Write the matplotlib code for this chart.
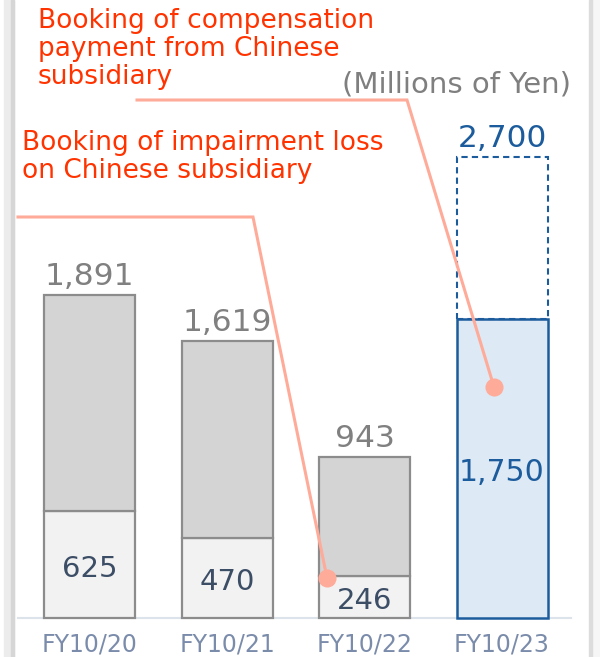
import matplotlib.pyplot as plt
from matplotlib.patches import Rectangle

plt.rcParams["font.family"] = ["DejaVu Sans"]

years = ["FY10/20", "FY10/21", "FY10/22", "FY10/23"]
totals = [1891, 1619, 943]
lower = [625, 470, 246]
forecast_total = 2700
forecast_base = 1750

W, H = 600, 657
fig = plt.figure(figsize=(W / 100, H / 100), dpi=100)
ax = fig.add_axes([0, 0, 1, 1])

# pixel -> data mapping (bar centers 137.5 px apart, baseline at y=618 px)
X0, DX = 89.5, 137.5
Y0, DY = 618, 0.1709
ax.set_xlim(-X0 / DX, (W - X0) / DX)
ax.set_ylim(-(H - Y0) / DY, Y0 / DY)
ax.axis("off")


def px(x):
    return (x - X0) / DX


def py(y):
    return (Y0 - y) / DY


def fpos(x, y):
    return x / W, 1 - y / H


# page frame
fig.patches.append(Rectangle(fpos(4, H), 10 / W, 1, transform=fig.transFigure, color="#ececec", zorder=0))
fig.patches.append(Rectangle(fpos(11, H), 3 / W, 1, transform=fig.transFigure, color="#d6d6d6", zorder=0))
fig.patches.append(Rectangle(fpos(590, H), 10 / W, 1, transform=fig.transFigure, color="#f6f6f6", zorder=0))
fig.patches.append(Rectangle(fpos(589, H), 2.5 / W, 1, transform=fig.transFigure, color="#dcdcdc", zorder=0))

bw = 91 / DX
xs = list(range(len(years)))

ax.plot([px(18), px(571)], [0, 0], color="#dde3ea", lw=1.5, zorder=1)

upper = [t - l for t, l in zip(totals, lower)]
ax.bar(xs[:3], lower, width=bw, color="#f2f2f2", edgecolor="#8c8c8c", linewidth=1.6, zorder=2)
ax.bar(xs[:3], upper, bottom=lower, width=bw, color="#d4d4d4", edgecolor="#8c8c8c", linewidth=1.6, zorder=2)

ax.bar(xs[3], forecast_base, width=bw, color="#dde9f5", edgecolor="#1c5c9c", linewidth=1.8, zorder=2)
ax.bar(xs[3], forecast_total - forecast_base, bottom=forecast_base, width=bw, color="none",
       edgecolor="#1c5c9c", linewidth=1.5, linestyle=(0, (3, 2)), zorder=3)

top_off = 10 / DY   # label baseline sits 10 px above the bar top
mid_off = 12.5 / DY  # baseline below segment centre

for i, (t, l) in enumerate(zip(totals, lower)):
    ax.text(i, t + top_off, f"{t:,}", ha="center", va="baseline", fontsize=22.5, color="#808080", zorder=4)
    ax.text(i, l / 2 - mid_off, f"{l:,}", ha="center", va="baseline", fontsize=21, color="#3c4d66", zorder=4)

ax.text(3, forecast_total + top_off, f"{forecast_total:,}", ha="center", va="baseline", fontsize=22.5,
        color="#1c5c9c", zorder=4)
ax.text(3, forecast_base / 2 - mid_off, f"{forecast_base:,}", ha="center", va="baseline", fontsize=21.5,
        color="#1c5c9c", zorder=4)

for i, lab in enumerate(years):
    ax.text(i, py(652), lab, ha="center", va="baseline", fontsize=17, color="#7b8cab")

ax.text(px(571), py(92), "(Millions of Yen)", ha="right", va="baseline", fontsize=21, color="#7f7f7f")

red = "#ff3300"
line_c = "#ffab99"
note1 = ["Booking of compensation", "payment from Chinese", "subsidiary"]
note2 = ["Booking of impairment loss", "on Chinese subsidiary"]
for k, s in enumerate(note1):
    ax.text(px(38), py(28.5 + 27.5 * k), s, ha="left", va="baseline", fontsize=19, color=red)
for k, s in enumerate(note2):
    ax.text(px(22), py(150 + 28.5 * k), s, ha="left", va="baseline", fontsize=19, color=red)

# leader lines
ax.plot([px(18), px(253), px(327)], [py(217), py(217), py(578)], color=line_c, lw=2.2, zorder=5,
        solid_joinstyle="miter")
ax.plot([px(137), px(407), px(494)], [py(100), py(100), py(387)], color=line_c, lw=2.2, zorder=5,
        solid_joinstyle="miter")
ax.plot([px(327)], [py(578)], "o", color=line_c, ms=12, zorder=6)
ax.plot([px(494)], [py(387)], "o", color=line_c, ms=12, zorder=6)

fig.savefig("out.png", dpi=100)
